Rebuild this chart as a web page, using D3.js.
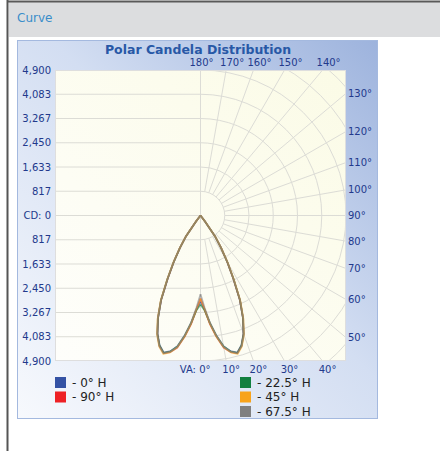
<!DOCTYPE html>
<html>
<head>
<meta charset="utf-8">
<script src="https://cdn.jsdelivr.net/npm/d3@7"></script>
<style>
  body { margin: 0; background: #fff; }
  svg { display: block; }
</style>
</head>
<body>
<div id="chart"></div>
<script>
// vertical angles (deg from nadir) and candela per horizontal plane
var verticalAngles = [0, 2.5, 5, 7.5, 10, 12.5, 15, 17.5, 20, 22.5, 25, 27.5, 30, 32.5, 35, 37.5, 40, 45, 50, 55, 60, 65, 70, 75, 80, 85, 90];
var cd_0   = [2900, 3170, 3630, 4070, 4470, 4680, 4780, 4580, 4230, 3730, 3130, 2380, 1780, 1280, 830, 230, 0, 0, 0, 0, 0, 0, 0, 0, 0, 0, 0];
var cd_90  = [2800, 3180, 3680, 4120, 4520, 4710, 4800, 4600, 4240, 3740, 3140, 2390, 1790, 1290, 840, 240, 0, 0, 0, 0, 0, 0, 0, 0, 0, 0, 0];
var cd_225 = [3000, 3200, 3640, 4090, 4480, 4690, 4790, 4590, 4240, 3740, 3150, 2410, 1800, 1290, 840, 240, 0, 0, 0, 0, 0, 0, 0, 0, 0, 0, 0];
var cd_45  = [2800, 3150, 3660, 4110, 4510, 4720, 4830, 4630, 4280, 3780, 3180, 2440, 1830, 1310, 860, 260, 0, 0, 0, 0, 0, 0, 0, 0, 0, 0, 0];
var cd_675 = [2650, 3100, 3620, 4080, 4490, 4700, 4800, 4610, 4260, 3760, 3160, 2420, 1820, 1300, 850, 250, 0, 0, 0, 0, 0, 0, 0, 0, 0, 0, 0];

var seriesNames  = ["0° H", "90° H", "22.5° H", "45° H", "67.5° H"];
var seriesValues = [cd_0, cd_90, cd_225, cd_45, cd_675];
var seriesColors = ["#3452a4", "#ee2125", "#138040", "#f8a31b", "#808080"];

var cdMax = 4900;
var cdTicks = [-4900, -4083.33, -3266.67, -2450, -1633.33, -816.67, 0, 816.67, 1633.33, 2450, 3266.67, 4083.33, 4900];
var rightAngleLabels  = [50, 60, 70, 80, 90, 100, 110, 120, 130];
var topAngleLabels    = [140, 150, 160, 170, 180];
var bottomAngleLabels = [0, 10, 20, 30, 40];

var width = 440, height = 451;
var plotLeft = 55, plotTop = 70, R = 145.5;
var cx = plotLeft + R, cy = plotTop + R;
var plotRight = plotLeft + 2 * R, plotBottom = plotTop + 2 * R;
var labelColor = "#22398c";
var gridColor = "#dcdcd6";

var svg = d3.select("#chart").append("svg")
    .attr("width", width)
    .attr("height", height)
    .style("font-family", "DejaVu Sans, Verdana, sans-serif");

var defs = svg.append("defs");
var panelGrad = defs.append("linearGradient").attr("id", "panelGrad")
    .attr("x1", 0).attr("y1", 1).attr("x2", 1).attr("y2", 0);
panelGrad.append("stop").attr("offset", "0%").attr("stop-color", "#f7f9fd");
panelGrad.append("stop").attr("offset", "55%").attr("stop-color", "#d3def2");
panelGrad.append("stop").attr("offset", "100%").attr("stop-color", "#9db3dd");
var plotGrad = defs.append("linearGradient").attr("id", "plotGrad")
    .attr("x1", 0).attr("y1", 1).attr("x2", 1).attr("y2", 0);
plotGrad.append("stop").attr("offset", "0%").attr("stop-color", "#fefefb");
plotGrad.append("stop").attr("offset", "100%").attr("stop-color", "#fbfbe6");
defs.append("clipPath").attr("id", "plotClip").append("rect")
    .attr("x", plotLeft).attr("y", plotTop).attr("width", 2 * R).attr("height", 2 * R);

// page frame
svg.append("rect").attr("x", 9).attr("y", 2).attr("width", width - 9).attr("height", 35).attr("fill", "#dcdddf");
svg.append("line").attr("x1", 7).attr("x2", width).attr("y1", 1.5).attr("y2", 1.5).attr("stroke", "#5a5a5a").attr("stroke-width", 2);
svg.append("line").attr("x1", 7.5).attr("x2", 7.5).attr("y1", 0).attr("y2", height).attr("stroke", "#555").attr("stroke-width", 2);
svg.append("text").attr("x", 17).attr("y", 22).attr("font-size", 12).attr("fill", "#3a8dca").text("Curve");

// chart panel
svg.append("rect").attr("x", 17.5).attr("y", 40.5).attr("width", 360).attr("height", 378)
    .attr("fill", "url(#panelGrad)").attr("stroke", "#a4b9df");
svg.append("text").attr("x", 198).attr("y", 54).attr("text-anchor", "middle")
    .attr("font-size", 12.5).attr("font-weight", "bold").attr("fill", "#2858a6")
    .text("Polar Candela Distribution");

svg.append("rect").attr("x", plotLeft).attr("y", plotTop).attr("width", 2 * R).attr("height", 2 * R)
    .attr("fill", "url(#plotGrad)");

var r = d3.scaleLinear().domain([0, cdMax]).range([0, R]);
var y = d3.scaleLinear().domain([-cdMax, cdMax]).range([plotBottom, plotTop]);

var grid = svg.append("g").attr("clip-path", "url(#plotClip)")
    .attr("fill", "none").attr("stroke", gridColor).attr("stroke-width", 1);

// left half: cartesian lines
grid.selectAll("line.h").data(cdTicks).enter().append("line")
    .attr("x1", plotLeft).attr("x2", cx)
    .attr("y1", function(d) { return y(d); }).attr("y2", function(d) { return y(d); });
grid.append("line").attr("x1", cx).attr("x2", cx).attr("y1", plotTop).attr("y2", plotBottom);

// right half: polar rings and spokes
var step = cdMax / 6;
var rings = d3.range(1, 9).map(function(k) { return k * step; });
grid.selectAll("path.ring").data(rings).enter().append("path")
    .attr("d", function(d) {
        var p = d3.path();
        p.moveTo(cx, cy - r(d));
        p.arc(cx, cy, r(d), -Math.PI / 2, Math.PI / 2);
        return p.toString();
    });
grid.selectAll("line.spoke").data(d3.range(0, 181, 10)).enter().append("line")
    .attr("x1", function(a) { return cx + r(step) * Math.sin(a * Math.PI / 180); })
    .attr("y1", function(a) { return cy + r(step) * Math.cos(a * Math.PI / 180); })
    .attr("x2", function(a) { return cx + 400 * Math.sin(a * Math.PI / 180); })
    .attr("y2", function(a) { return cy + 400 * Math.cos(a * Math.PI / 180); });

svg.append("rect").attr("x", plotLeft + 0.5).attr("y", plotTop + 0.5).attr("width", 2 * R - 1).attr("height", 2 * R - 1)
    .attr("fill", "none").attr("stroke", "#dedede");

// axis labels
var yAxis = svg.append("g").attr("transform", "translate(" + (plotLeft - 1) + ",0)")
    .call(d3.axisLeft(y).tickValues(cdTicks).tickSize(0).tickPadding(3)
        .tickFormat(function(d) { return d === 0 ? "CD: 0" : d3.format(",")(Math.round(Math.abs(d))); }));
yAxis.select(".domain").remove();
yAxis.selectAll("text").attr("fill", labelColor).attr("font-size", 10).attr("font-family", "DejaVu Sans, Verdana, sans-serif");

var tan = function(a) { return Math.tan(a * Math.PI / 180); };
svg.selectAll("text.rl").data(rightAngleLabels).enter().append("text")
    .attr("x", plotRight + 2)
    .attr("y", function(a) { return cy - R * tan(a - 90); })
    .attr("dy", "0.35em").attr("font-size", 10).attr("fill", labelColor)
    .text(function(a) { return a + "°"; });
svg.selectAll("text.tl").data(topAngleLabels).enter().append("text")
    .attr("x", function(a) { return a === 180 ? cx + 1 : cx + R * tan(180 - a) + 6; })
    .attr("y", plotTop - 4).attr("text-anchor", "middle").attr("font-size", 10).attr("fill", labelColor)
    .text(function(a) { return a + "°"; });
svg.selectAll("text.bl").data(bottomAngleLabels).enter().append("text")
    .attr("x", function(a) { return a === 0 ? cx + 10 : cx + R * tan(a) + 5; })
    .attr("y", plotBottom + 12).attr("text-anchor", function(a) { return a === 0 ? "end" : "middle"; })
    .attr("font-size", 10).attr("fill", labelColor)
    .text(function(a) { return a === 0 ? "VA: 0°" : a + "°"; });

// candela curves, each plane mirrored to both sides
var curves = svg.append("g").attr("transform", "translate(" + cx + "," + cy + ")");
var rightLine = d3.lineRadial()
    .angle(function(d) { return Math.PI - d[0] * Math.PI / 180; })
    .radius(function(d) { return r(d[1]); });
var leftLine = d3.lineRadial()
    .angle(function(d) { return Math.PI + d[0] * Math.PI / 180; })
    .radius(function(d) { return r(d[1]); });

seriesValues.forEach(function(vals, i) {
    var pts = verticalAngles.map(function(a, j) { return [a, vals[j]]; });
    [rightLine, leftLine].forEach(function(line) {
        curves.append("path").attr("d", line(pts))
            .attr("fill", "none").attr("stroke", seriesColors[i])
            .attr("stroke-width", 1.7).attr("stroke-opacity", 0.6)
            .attr("stroke-linejoin", "round");
    });
});

// legend
var legendPos = [[55, 377], [55, 391.5], [240, 377], [240, 391.5], [240, 406]];
var legend = svg.selectAll("g.legend").data(seriesNames).enter().append("g")
    .attr("transform", function(d, i) { return "translate(" + legendPos[i][0] + "," + legendPos[i][1] + ")"; });
legend.append("rect").attr("width", 11).attr("height", 11)
    .attr("fill", function(d, i) { return seriesColors[i]; });
legend.append("text").attr("x", 17).attr("y", 5.5).attr("dy", "0.36em")
    .attr("font-size", 12).attr("fill", "#222")
    .text(function(d) { return "- " + d; });
</script>
</body>
</html>
